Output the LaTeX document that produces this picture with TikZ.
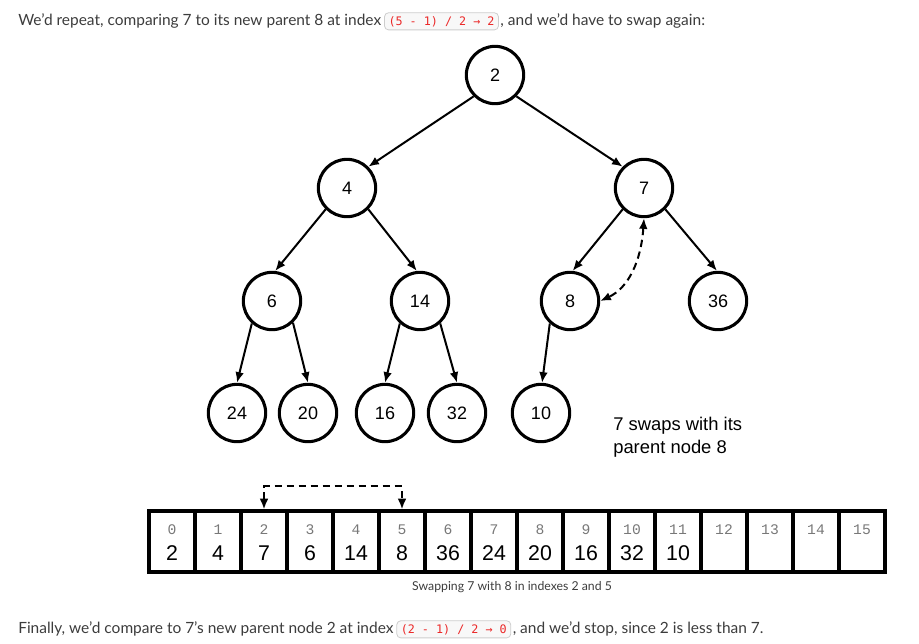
\documentclass[tikz,border=0pt]{standalone}
\usepackage{fontspec}
\setmainfont{Lato}
\newfontfamily\arialfont{Liberation Sans}
\newfontfamily\courfont{Liberation Mono}
\newfontfamily\codefont{DejaVu Sans Mono}
\usetikzlibrary{arrows.meta, positioning}
\definecolor{prosegray}{RGB}{60,60,60}
\definecolor{codered}{RGB}{235,40,40}
\definecolor{codeback}{RGB}{248,248,248}
\definecolor{codeframe}{RGB}{205,205,205}
\definecolor{indexgray}{RGB}{120,120,120}

\begin{document}
\begin{tikzpicture}[x=0.75pt,y=0.75pt,yscale=-1,xscale=1,
    heapnode/.style={circle, draw, line width=2.3pt, minimum size=43pt, inner sep=0pt, font=\arialfont\fontsize{13.5}{16}\selectfont},
    heapedge/.style={line width=1.5pt, -{Latex[length=8pt,width=6.5pt]}},
    swapedge/.style={line width=1.5pt, dash pattern=on 5.5pt off 3.5pt, {Latex[length=8pt,width=6.5pt]}-{Latex[length=8pt,width=6.5pt]}},
    cellbox/.style={draw, line width=2.4pt, minimum width=34.5pt, minimum height=45.75pt, inner sep=0pt},
    cellindex/.style={font=\courfont\fontsize{11}{12}\selectfont, text=indexgray, inner sep=0pt},
    cellvalue/.style={font=\arialfont\fontsize{16}{17}\selectfont, inner sep=0pt},
    prose/.style={font=\fontsize{11.6}{13}\selectfont, text=prosegray, inner sep=0pt, anchor=base west},
    inlinecode/.style={font=\codefont\fontsize{8.8}{10}\selectfont, text=codered, fill=codeback, draw=codeframe, line width=0.6pt, rounded corners=3pt, inner xsep=3pt, inner ysep=2.5pt}
  ]
    \useasboundingbox (0,0) rectangle (919,643);

    % Text Node
    \node [prose] (intro) at (18,25) {We’d repeat, comparing 7 to its new parent 8 at index};
    \node [inlinecode, right=2pt of intro.base east, anchor=base west] (introcode) {(5 - 1) / 2 → 2};
    \node [prose, right=1pt of introcode.base east, anchor=base west] (introrest) {, and we’d have to swap again:};

    %Shape: Circle (tree)
    \node [heapnode] (n2) at (495,75) {2};
    \node [heapnode] (n4) at (347,188) {4};
    \node [heapnode] (n7) at (644,188) {7};
    \node [heapnode] (n6) at (272,301) {6};
    \node [heapnode] (n14) at (420,301) {14};
    \node [heapnode] (n8) at (570,301) {8};
    \node [heapnode] (n36) at (718,301) {36};
    \node [heapnode] (n24) at (237,413) {24};
    \node [heapnode] (n20) at (308,413) {20};
    \node [heapnode] (n16) at (385,413) {16};
    \node [heapnode] (n32) at (457,413) {32};
    \node [heapnode] (n10) at (541,413) {10};

    % Edges
    \draw [heapedge] (n2.225) -- (n4.45);
    \draw [heapedge] (n2.315) -- (n7.135);
    \draw [heapedge] (n4.225) -- (n6.84);
    \draw [heapedge] (n4.315) -- (n14.96);
    \draw [heapedge] (n7.225) -- (n8.85);
    \draw [heapedge] (n7.315) -- (n36.92);
    \draw [heapedge] (n6.228) -- (n24.north);
    \draw [heapedge] (n6.314) -- (n20.north);
    \draw [heapedge] (n14.228) -- (n16.north);
    \draw [heapedge] (n14.312) -- (n32.north);
    \draw [heapedge] (n8.228) -- (n10.88);
    \draw [swapedge] (n7.south) .. controls (641,262) and (628,288) .. (n8.east);

    % Text Node
    \node [anchor=west, align=left, inner sep=0pt, font=\arialfont\fontsize{13.8}{17}\selectfont] (swapnote) at (613,437) {7 swaps with its\\parent node 8};

    %Shape: Array
    \foreach \v [count=\i from 0] in {2,4,7,6,14,8,36,24,20,16,32,10,{},{},{},{}} {
      \node [cellbox] (a\i) at ({172+46*\i},541.5) {};
      \node [cellindex] (i\i) at ({172+46*\i},530) {\i};
      \node [cellvalue] (v\i) at ({172+46*\i},553) {\v};
    }
    \draw [swapedge] (a2.north) -- ++(0,-23) -| (a5.north);

    % Text Node
    \node [font=\fontsize{9.2}{11}\selectfont, text=prosegray, inner sep=0pt] (caption) at (512,587) {Swapping 7 with 8 in indexes 2 and 5};

    % Text Node
    \node [prose] (outro) at (18,633) {Finally, we’d compare to 7’s new parent node 2 at index};
    \node [inlinecode, right=2pt of outro.base east, anchor=base west] (outrocode) {(2 - 1) / 2 → 0};
    \node [prose, right=1pt of outrocode.base east, anchor=base west] (outrorest) {, and we’d stop, since 2 is less than 7.};
\end{tikzpicture}
\end{document}
